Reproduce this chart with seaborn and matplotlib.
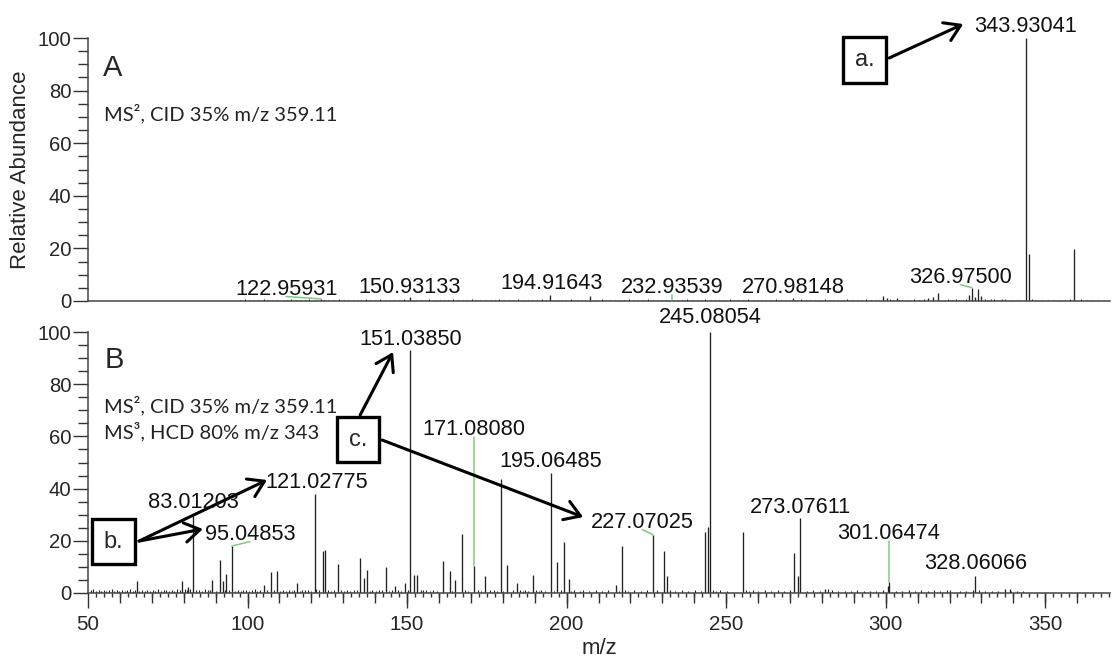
import numpy as np
import matplotlib
matplotlib.use('Agg')
import matplotlib.pyplot as plt
from matplotlib.ticker import MultipleLocator
import seaborn as sns

# ---- data: panel A (MS2 of m/z 359.11) ----
a_peaks_mz = [122.95931, 150.93133, 194.91643, 207.4, 232.93539, 270.98148, 299.1, 300.3,
              303.5, 313.3, 314.9, 316.3, 326.0, 326.97500, 328.0, 328.9, 330.0,
              343.93041, 344.93, 359.11]
a_peaks_int = [0.8, 1.5, 2.2, 2.0, 0.5, 1.0, 1.9, 1.0,
               1.0, 1.3, 1.4, 3.2, 2.3, 5.1, 1.4, 4.4, 1.9,
               100.0, 17.9, 19.8]
a_noise = [(97.5, .4), (99.2, .6), (100.6, .3), (101.8, .3), (103.4, .5), (105.1, .7), (106.3, .3),
           (107.6, .4), (109.3, .5), (111.0, .3), (112.4, .4), (113.7, .6), (115.2, .4), (116.5, .3),
           (117.9, .5), (119.4, .7), (121.1, .4), (124.1, .4), (125.3, .5), (127.0, .3), (128.8, .6),
           (130.1, .3), (131.4, .4), (133.1, .5), (134.4, .3), (135.6, .3), (137.2, .6), (138.5, .4),
           (139.9, .4), (141.5, .7), (143.2, .4), (144.6, .3), (145.8, .5), (147.4, .3), (149.1, .6),
           (152.7, .4), (154.3, .5), (155.6, .3), (156.9, .6), (158.6, .4), (160.2, .5), (161.5, .3),
           (162.8, .3), (164.5, .6), (166.1, .4), (167.4, .3), (168.7, .5), (170.4, .7), (171.6, .3),
           (172.9, .4), (174.6, .5), (176.2, .3), (177.5, .4), (178.8, .6), (180.5, .4), (182.1, .5),
           (183.4, .3), (184.7, .6), (186.4, .4), (188.0, .5), (189.3, .3), (190.6, .3), (192.3, .6),
           (193.6, .4), (197.2, .4), (198.5, .3), (199.8, .5), (201.5, .7), (203.1, .4), (204.4, .3),
           (205.7, .5), (209.3, .3), (211.0, .6), (212.3, .4), (213.6, .4), (215.2, .5), (216.5, .3),
           (217.9, .3), (219.5, .6), (221.2, .4), (222.5, .3), (223.8, .5), (225.4, .7), (227.1, .4),
           (228.4, .3), (229.7, .5), (231.2, .4), (235.0, .4), (236.3, .3), (237.6, .6), (239.3, .3),
           (241.0, .5), (242.2, .4), (243.5, .7), (245.2, .4), (246.5, .3), (247.8, .5), (249.4, .3),
           (251.1, .6), (252.4, .4), (253.7, .4), (255.3, .5), (257.0, .6), (258.3, .3), (259.6, .4),
           (261.2, .5), (262.5, .3), (263.9, .3), (265.5, .6), (267.2, .4), (268.5, .3), (269.8, .5),
           (272.1, .4), (273.4, .7), (275.1, .4), (276.4, .3), (277.7, .5), (279.3, .3), (281.0, .6),
           (282.3, .4), (283.6, .4), (285.2, .5), (286.5, .3), (287.9, .6), (289.5, .4), (291.2, .5),
           (292.5, .3), (293.8, .7), (295.4, .4), (297.0, .5), (298.0, .4), (301.3, .6), (302.4, .4),
           (304.3, .5), (305.2, .4), (307.0, .5), (308.8, .7), (310.5, .5), (312.1, .6), (318.5, .5),
           (319.4, .6), (320.3, .4), (321.1, .5), (322.0, .6), (323.0, .4), (324.1, .5), (325.1, .6),
           (331.2, .6), (332.2, .5), (333.1, .6), (334.0, .8), (335.8, .4), (336.6, .6), (337.5, .8),
           (339.3, .5), (341.0, .4), (342.2, .5), (346.0, .6), (347.1, .5), (349.0, .4), (350.8, .5),
           (352.6, .3), (354.3, .5), (356.1, .4), (357.8, .6), (361.2, .8), (363.0, .5), (364.8, .4),
           (366.5, .5), (368.3, .4)]
a_labels = [122.95931, 150.93133, 194.91643, 232.93539, 270.98148, 326.97500, 343.93041]

# ---- data: panel B (MS3 of m/z 343) ----
b_peaks_mz = [65.5, 79.4, 81.4, 83.01203, 89.0, 91.3, 92.2, 93.3, 95.04853, 105.3, 107.3, 109.2,
              115.4, 121.02775, 123.6, 124.4, 128.5, 135.4, 136.5, 137.4, 143.3, 146.2, 149.4,
              151.03850, 152.3, 153.2, 161.2, 163.3, 165.1, 167.2, 171.08080, 174.5, 179.5, 181.4,
              184.4, 189.6, 195.06485, 197.1, 199.3, 200.7, 215.5, 217.3, 227.07025, 230.6, 231.5,
              243.4, 244.4, 245.08054, 255.4, 271.4, 272.5, 273.07611, 281.0, 300.6, 301.06474,
              328.06066, 337.5, 339.0]
b_peaks_int = [4.7, 4.7, 2.3, 29.6, 5.1, 12.8, 4.5, 7.4, 18.0, 3.2, 7.9, 8.3,
               3.8, 38.0, 16.0, 16.6, 11.2, 13.3, 5.6, 8.7, 10.0, 2.8, 3.8,
               93.0, 7.0, 6.9, 12.3, 8.3, 5.1, 22.6, 10.2, 6.6, 43.8, 10.7,
               3.8, 7.0, 46.0, 11.9, 19.5, 5.4, 3.0, 18.0, 22.3, 16.0, 6.4,
               23.4, 25.3, 100.0, 23.4, 15.3, 6.6, 28.7, 1.5, 2.8, 4.1,
               6.4, 1.5, 1.5]
b_noise = [(50.8, 1.0), (51.6, 1.4), (52.5, 0.8), (53.3, 1.2), (54.0, 0.9), (54.9, 1.3), (55.7, 0.7),
           (56.6, 1.1), (57.4, 1.4), (58.1, 0.8), (59.0, 1.2), (59.8, 0.9), (60.6, 1.3), (61.5, 0.7),
           (62.3, 1.0), (63.1, 1.4), (64.0, 0.8), (64.8, 1.2), (66.1, 0.9), (66.9, 1.3), (67.8, 0.7),
           (68.6, 1.1), (69.5, 0.8), (70.3, 1.2), (71.1, 0.9), (72.0, 1.4), (72.9, 0.7), (73.7, 1.0),
           (74.6, 1.3), (75.4, 0.8), (76.3, 1.2), (77.1, 0.9), (78.0, 1.5), (78.8, 1.0), (80.3, 1.6),
           (81.0, 1.2), (82.1, 1.4), (84.0, 1.1), (84.9, 1.3), (85.7, 0.8), (86.6, 1.5), (87.5, 1.0),
           (88.3, 1.2), (90.1, 0.9), (92.8, 1.1), (94.2, 1.3), (96.0, 0.9), (96.9, 1.2), (97.8, 0.8),
           (98.7, 1.0), (99.5, 1.3), (100.4, 0.7), (101.3, 1.1), (102.2, 1.4), (103.0, 0.8), (104.0, 1.2),
           (106.1, 1.0), (108.2, 1.1), (110.1, 0.9), (111.0, 1.3), (112.0, 0.8), (112.9, 1.2), (113.8, 0.9),
           (114.6, 1.1), (116.3, 0.7), (117.2, 1.2), (118.1, 1.0), (119.0, 1.3), (120.0, 0.8), (121.6, 1.5),
           (122.3, 1.0), (125.3, 1.2), (126.2, 0.9), (127.0, 1.1), (129.4, 1.0), (130.3, 0.8), (131.3, 1.2),
           (132.1, 0.9), (133.3, 1.0), (134.2, 1.3), (138.3, 0.9), (139.1, 1.2), (140.3, 0.8), (141.2, 1.0),
           (142.1, 1.3), (144.3, 0.9), (145.2, 1.1), (147.2, 1.0), (148.1, 0.8), (150.2, 1.2), (154.3, 1.2),
           (155.1, 1.0), (156.0, 1.1), (157.2, 0.8), (158.1, 1.0), (159.3, 0.9), (164.2, 0.8), (168.3, 1.0),
           (169.2, 0.7), (172.1, 1.1), (173.3, 0.8), (176.1, 1.1), (177.2, 1.3), (178.1, 0.9), (180.2, 0.8),
           (183.1, 1.0), (185.3, 1.1), (186.2, 0.8), (187.1, 1.2), (188.0, 0.9), (190.3, 1.3), (191.2, 0.8),
           (192.1, 1.0), (193.2, 0.9), (196.2, 0.8), (198.1, 1.1), (201.3, 0.9), (202.2, 1.0), (204.1, 0.8),
           (205.2, 1.1), (207.1, 0.7), (209.3, 1.0), (211.2, 0.8), (213.1, 1.0), (216.3, 0.9), (218.2, 1.2),
           (219.1, 0.8), (221.2, 1.0), (223.3, 0.8), (225.1, 1.0), (228.2, 1.3), (232.3, 1.0), (234.1, 0.8),
           (236.2, 1.0), (238.1, 0.8), (240.2, 1.1), (242.1, 0.9), (245.9, 1.2), (246.8, 0.8), (248.2, 1.0),
           (250.3, 0.8), (256.2, 1.3), (257.1, 0.9), (258.3, 1.0), (260.1, 0.8), (262.2, 1.0), (264.1, 0.8),
           (266.3, 1.0), (268.2, 0.9), (270.1, 1.0), (275.2, 0.8), (277.1, 1.0), (279.3, 0.8), (281.9, 1.5),
           (283.2, 1.0), (285.1, 0.8), (287.3, 0.9), (289.2, 0.8), (291.1, 1.0), (293.3, 0.8), (295.2, 0.9),
           (297.1, 0.8), (299.2, 1.0), (303.2, 0.8), (305.1, 0.9), (307.3, 1.0), (309.2, 0.8), (311.1, 1.0),
           (313.3, 0.9), (315.2, 1.0), (317.1, 0.8), (319.3, 1.0), (320.0, 1.2), (323.2, 0.8), (325.1, 0.9),
           (327.3, 1.0), (329.3, 1.2), (331.1, 0.8), (333.2, 0.9), (335.1, 0.8), (339.3, 0.9), (341.2, 0.8),
           (343.1, 0.9)]
b_labels = [83.01203, 95.04853, 121.02775, 151.03850, 171.08080, 195.06485, 227.07025,
            245.08054, 273.07611, 301.06474, 328.06066]

# ---- label placement (x, baseline y) and which ones get a green leader ----
a_label_pos = {122.95931: (112.1, 2.3), 150.93133: (150.93133, 3.0), 194.91643: (195.4, 4.6),
               232.93539: (232.93539, 3.0), 270.98148: (271.2, 3.0), 326.97500: (323.4, 6.8),
               343.93041: (343.7, 102.3)}
a_leaders = [122.95931, 232.93539, 326.97500]
b_label_pos = {83.01203: (83.01203, 32.6), 95.04853: (100.8, 20.3), 121.02775: (121.8, 40.2),
               151.03850: (151.0385, 95.0), 171.08080: (171.0808, 60.5), 195.06485: (195.06485, 48.3),
               227.07025: (223.7, 24.9), 245.08054: (245.08054, 103.4), 273.07611: (273.2, 30.7),
               301.06474: (301.06474, 20.7), 328.06066: (328.06066, 9.2)}
b_leaders = [95.04853, 171.08080, 227.07025, 301.06474]

sns.set_theme(style='ticks')
plt.rcParams['font.family'] = ['Liberation Sans', 'DejaVu Sans']
plt.rcParams['axes.linewidth'] = 1.1

STICK = '#222222'
GREEN = '#7fcc7f'
XMIN, XMAX = 50, 370.3

fig = plt.figure(figsize=(11.12, 6.6), dpi=100)
W, H = 1112, 660
ax_a = fig.add_axes([88 / W, 1 - 301 / H, 1022 / W, 263 / H])
ax_b = fig.add_axes([88 / W, 1 - 593 / H, 1022 / W, 261 / H])


def draw_panel(ax, peaks_mz, peaks_int, noise, labels, label_pos, leaders):
    nz_mz, nz_int = zip(*noise)
    ax.vlines(nz_mz, 0, nz_int, color=STICK, lw=0.8)
    ax.vlines(peaks_mz, 0, peaks_int, color=STICK, lw=0.95)
    lookup = dict(zip(peaks_mz, peaks_int))
    for mz in labels:
        lx, ly = label_pos[mz]
        ax.text(lx, ly, f'{mz:.5f}', ha='center', va='baseline', fontsize=15.7,
                color='#111111', clip_on=False, zorder=4)
        if mz in leaders:
            ax.plot([lx, mz], [ly - 0.6, lookup[mz]], color=GREEN, lw=1.1, zorder=3)
    ax.set_xlim(XMIN, XMAX)
    ax.set_ylim(0, 100)
    ax.yaxis.set_major_locator(MultipleLocator(20))
    ax.yaxis.set_minor_locator(MultipleLocator(5))
    ax.tick_params(axis='y', which='major', length=10.5, width=1.0, pad=1.5,
                   labelsize=14.6, color='#333333')
    ax.tick_params(axis='y', which='minor', length=7, width=1.0, color='#333333')
    for s in ('left', 'bottom'):
        ax.spines[s].set_color('#444444')
    sns.despine(ax=ax)


draw_panel(ax_a, a_peaks_mz, a_peaks_int, a_noise, a_labels, a_label_pos, a_leaders)
draw_panel(ax_b, b_peaks_mz, b_peaks_int, b_noise, b_labels, b_label_pos, b_leaders)

ax_a.tick_params(axis='x', which='both', bottom=False, labelbottom=False)
ax_a.set_ylabel('Relative Abundance', fontsize=16, labelpad=5)

# bottom axis: long ticks every 50, medium every 10, short every 2.5
ax_b.xaxis.set_major_locator(MultipleLocator(50))
ax_b.xaxis.set_minor_locator(MultipleLocator(2.5))
ax_b.tick_params(axis='x', which='major', length=11, width=1.0, pad=4.5, labelsize=14.8, color='#333333')
ax_b.tick_params(axis='x', which='minor', length=3.2, width=1.0, color='#333333')
sec = ax_b.secondary_xaxis('bottom')
sec.set_xticks(np.arange(60, 370, 10))
sec.tick_params(axis='x', length=7, width=1.0, labelbottom=False, color='#333333')
sec.spines['bottom'].set_visible(False)
ax_b.set_xlabel('m/z', fontsize=16, labelpad=3.5)

# panel letters and acquisition notes
ax_a.text(0.015, 0.855, 'A', transform=ax_a.transAxes, fontsize=21, va='baseline')
ax_b.text(0.016, 0.862, 'B', transform=ax_b.transAxes, fontsize=21, va='baseline')
note_font = ['Lato', 'DejaVu Sans']
ax_a.text(0.0155, 0.688, 'MS², CID 35% m/z 359.11', transform=ax_a.transAxes,
          fontsize=14.5, family=note_font, color='#222222', va='baseline')
ax_b.text(0.0155, 0.693, 'MS², CID 35% m/z 359.11', transform=ax_b.transAxes,
          fontsize=14.5, family=note_font, color='#222222', va='baseline')
ax_b.text(0.0155, 0.594, 'MS³, HCD 80% m/z 343', transform=ax_b.transAxes,
          fontsize=14.5, family=note_font, color='#222222', va='baseline')

# callout boxes with arrows
box = dict(boxstyle='square,pad=0.5', fc='white', ec='black', lw=2.4)
arrow = dict(arrowstyle='->,head_length=0.55,head_width=0.35', color='black', lw=2.2,
             mutation_scale=20, shrinkA=0, shrinkB=0)
ax_a.text(293.4, 91.6, 'a.', ha='center', va='center', fontsize=17, bbox=box, zorder=6, clip_on=False)
ax_a.annotate('', xy=(324.3, 105.3), xytext=(301.1, 92.4), arrowprops=arrow, annotation_clip=False)

ax_b.text(58.0, 19.7, 'b.', ha='center', va='center', fontsize=17, bbox=box, zorder=6, clip_on=False)
ax_b.annotate('', xy=(106.1, 43.3), xytext=(66.0, 19.9), arrowprops=arrow, annotation_clip=False)
ax_b.annotate('', xy=(86.0, 24.5), xytext=(66.0, 19.9), arrowprops=arrow, annotation_clip=False)

ax_b.text(134.6, 58.8, 'c.', ha='center', va='center', fontsize=17, bbox=box, zorder=6, clip_on=False)
ax_b.annotate('', xy=(145.6, 92.3), xytext=(135.3, 68.2), arrowprops=arrow, annotation_clip=False)
ax_b.annotate('', xy=(205.2, 29.1), xytext=(142.2, 58.6), arrowprops=arrow, annotation_clip=False)

fig.savefig('out.png', dpi=100)
